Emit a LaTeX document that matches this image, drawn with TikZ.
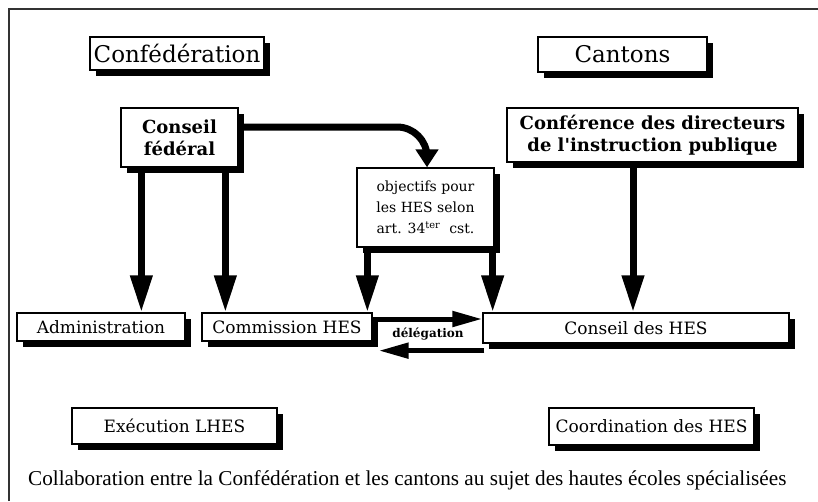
\documentclass[tikz,border=0pt]{standalone}
\usepackage{fontspec}
\setmainfont{Liberation Serif}
\newfontfamily\boxfont{DejaVu Serif}
\usetikzlibrary{arrows.meta,shadows,calc}
\begin{document}
\begin{tikzpicture}[x=1pt,y=-1pt,
  box/.style={draw=black, fill=white, line width=1.3pt, inner sep=0pt, align=center,
    drop shadow={shadow xshift=6pt, shadow yshift=-6pt, fill=black, opacity=1}},
  bigarrow/.style={line width=7pt, -{Triangle[width=21pt,length=37pt]}},
  curvearrow/.style={line width=7pt, rounded corners=30pt, -{Triangle[width=22pt,length=18pt]}},
  delearrow/.style={line width=5pt, -{Triangle[width=15pt,length=30pt]}},
  titlefont/.style={font=\boxfont\fontsize{23}{27}\selectfont},
  boldfont/.style={font=\boxfont\bfseries\fontsize{18}{22}\selectfont},
  smallfont/.style={font=\boxfont\fontsize{14}{21}\selectfont},
  labelfont/.style={font=\boxfont\fontsize{17}{20}\selectfont},
]
\useasboundingbox (0,0) rectangle (818,501);
\fill[white] (0,0) rectangle (818,501);
\draw[line width=1.5pt, draw=black!80] (9,501) -- (9,9) -- (818,9);

\node[box, titlefont, minimum width=174pt, minimum height=33pt] (conf) at (177,53.5) {Confédération};
\node[box, titlefont, minimum width=169pt, minimum height=35pt] (cant) at (622.5,54.5) {Cantons};
\node[box, boldfont, minimum width=117pt, minimum height=59pt] (cf) at (179.5,137.5) {Conseil\\fédéral};
\node[box, boldfont, minimum width=291pt, minimum height=54pt] (cdip) at (652.5,135) {Conférence des directeurs\\de l'instruction publique};
\node[box, smallfont, minimum width=137pt, minimum height=79pt] (obj) at (425.5,207.5) {objectifs pour\\les HES selon\\art. 34\textsuperscript{ter}\ \ cst.};
\node[box, labelfont, minimum width=168pt, minimum height=28pt] (adm) at (101,327) {Administration};
\node[box, labelfont, minimum width=170pt, minimum height=28pt] (com) at (287,327) {Commission HES};
\node[box, labelfont, minimum width=306pt, minimum height=30pt] (chs) at (636,328) {Conseil des HES};
\node[box, labelfont, minimum width=205pt, minimum height=36pt] (exe) at (174.5,426) {Exécution LHES};
\node[box, labelfont, minimum width=205pt, minimum height=37pt] (coo) at (651.5,426.5) {Coordination des HES};

\node[font=\boxfont\bfseries\fontsize{12}{14}\selectfont, inner sep=0pt] (dl) at (428,334) {délégation};

\node[anchor=west, inner sep=0pt, font=\fontsize{21.2}{24}\selectfont] (cap) at (28,480)
  {Collaboration entre la Confédération et les cantons au sujet des hautes écoles spécialisées};

% arrows from Conseil fédéral
\draw[bigarrow] ([xshift=21pt]cf.south west) -- ([xshift=21pt]cf.south west |- adm.north);
\draw[bigarrow] ([xshift=105pt]cf.south west) -- ([xshift=105pt]cf.south west |- com.north);
% curved arrow to objectifs
\coordinate (c1) at ([yshift=10.5pt]cf.east);
\coordinate (c2) at ([xshift=1.5pt]obj.north);
\draw[curvearrow] (c1) -- (c1 -| c2) -- (c2);
% arrows from objectifs
\draw[bigarrow] ([xshift=11pt]obj.south west) -- ([xshift=11pt]obj.south west |- com.north);
\draw[bigarrow] ([xshift=-2pt]obj.south east) -- ([xshift=-2pt]obj.south east |- chs.north);
% arrow from CDIP
\draw[bigarrow] ([xshift=-19.5pt]cdip.south) -- ([xshift=-19.5pt]cdip.south |- chs.north);
% delegation arrows
\coordinate (u1) at ([yshift=8pt]com.east);
\draw[delearrow] (u1) -- (u1 -| chs.west);
\coordinate (d1) at ([xshift=2pt,yshift=-7pt]chs.south west);
\coordinate (d2) at ([xshift=6pt]com.east);
\draw[delearrow] (d1) -- (d1 -| d2);
\end{tikzpicture}
\end{document}
